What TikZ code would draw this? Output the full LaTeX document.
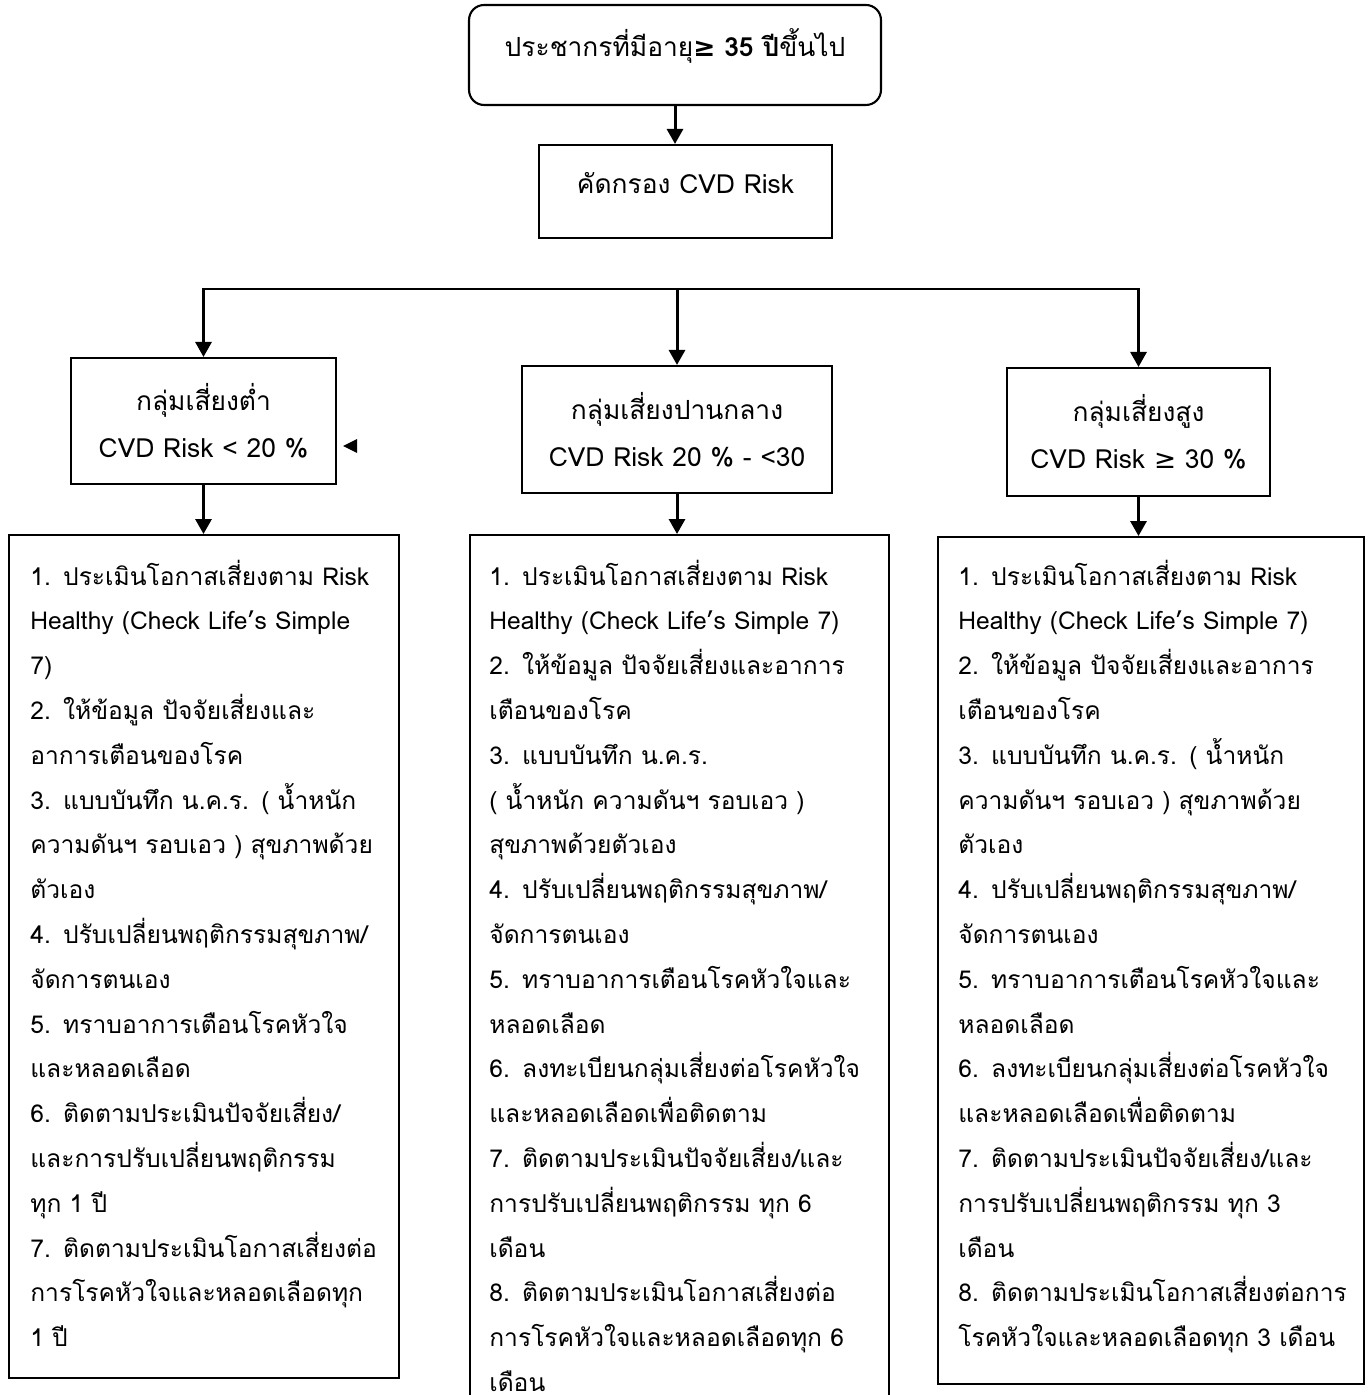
\documentclass[tikz,border=0pt]{standalone}
\usepackage{fontspec}
\setmainfont[Script=Thai]{Loma}
\newfontfamily\symfont{DejaVu Sans}
\usetikzlibrary{positioning, arrows.meta}

\tikzset{
  box/.style={draw, line width=1.2pt, inner sep=0pt, align=center, font=\fontsize{15}{26.5}\selectfont},
  lifted/.style={text height=0.3cm, text depth=0.22cm},
  flow/.style={line width=1.7pt, -{Triangle[length=0.3cm, width=0.32cm]}},
  itemtext/.style={anchor=base west, inner sep=0pt, text width=9cm, align=left, font=\fontsize{14}{25.5}\selectfont},
}

\begin{document}
\begin{tikzpicture}[x=0.02cm, y=-0.02cm]
  \useasboundingbox (0,0) rectangle (1370,1395);
  \node[box, lifted, rounded corners=0.3cm, minimum width=8.24cm, minimum height=2cm] (popbox) at (675,55)
    {ประชากรที่มีอายุ{\bfseries{\symfont ≥} 35 ปี}ขึ้นไป};
  \node[box, lifted, minimum width=5.86cm, minimum height=1.86cm] (screen) at (685.5,191.5) {คัดกรอง CVD Risk};
  \draw[flow] (popbox.south) -- (popbox.south |- screen.north);

  \node[box, minimum width=5.3cm, minimum height=2.52cm] (lowgrp) at (203.5,421) {กลุ่มเสี่ยงต่ำ\\CVD Risk < 20 \%};
  \node[box, minimum width=6.2cm, minimum height=2.54cm] (midgrp) at (677,429.5) {กลุ่มเสี่ยงปานกลาง\\CVD Risk 20 \% - <30};
  \node[box, minimum width=5.26cm, minimum height=2.56cm] (higrp) at (1138.5,432) {กลุ่มเสี่ยงสูง\\CVD Risk {\symfont ≥} 30 \%};
  \coordinate (branch) at (677,289);
  \draw[flow] (branch) -| (lowgrp.north);
  \draw[flow] (branch) -| (higrp.north);
  \draw[flow] (branch) -- (midgrp.north);
  \coordinate (stray) at (343,446);
  \fill (stray) -- ++(14,-7) -- ++(0,14) -- cycle;

  \node[box, minimum width=7.8cm, minimum height=16.86cm] (lowlist) at (204,956.5) {};
  \node[box, minimum width=8.38cm, minimum height=17.9cm] (midlist) at (679.5,982.5) {};
  \node[box, minimum width=8.52cm, minimum height=16.94cm] (hilist) at (1151,960.5) {};
  \draw[flow] (lowgrp.south) -- (lowgrp.south |- lowlist.north);
  \draw[flow] (midgrp.south) -- (midgrp.south |- midlist.north);
  \draw[flow] (higrp.south) -- (higrp.south |- hilist.north);

  \node[itemtext] (lowtext) at (30,585) {1. ประเมินโอกาสเสี่ยงตาม Risk\\
    Healthy (Check Life’s Simple\\
    7)\\
    2. ให้ข้อมูล ปัจจัยเสี่ยงและ\\
    อาการเตือนของโรค\\
    3. แบบบันทึก น.ค.ร. ( น้ำหนัก\\
    ความดันฯ รอบเอว ) สุขภาพด้วย\\
    ตัวเอง\\
    4. ปรับเปลี่ยนพฤติกรรมสุขภาพ/\\
    จัดการตนเอง\\
    5. ทราบอาการเตือนโรคหัวใจ\\
    และหลอดเลือด\\
    6. ติดตามประเมินปัจจัยเสี่ยง/\\
    และการปรับเปลี่ยนพฤติกรรม\\
    ทุก 1 ปี\\
    7. ติดตามประเมินโอกาสเสี่ยงต่อ\\
    การโรคหัวใจและหลอดเลือดทุก\\
    1 ปี};
  \node[itemtext] (midtext) at (489,585) {1. ประเมินโอกาสเสี่ยงตาม Risk\\
    Healthy (Check Life’s Simple 7)\\
    2. ให้ข้อมูล ปัจจัยเสี่ยงและอาการ\\
    เตือนของโรค\\
    3. แบบบันทึก น.ค.ร.\\
    ( น้ำหนัก ความดันฯ รอบเอว )\\
    สุขภาพด้วยตัวเอง\\
    4. ปรับเปลี่ยนพฤติกรรมสุขภาพ/\\
    จัดการตนเอง\\
    5. ทราบอาการเตือนโรคหัวใจและ\\
    หลอดเลือด\\
    6. ลงทะเบียนกลุ่มเสี่ยงต่อโรคหัวใจ\\
    และหลอดเลือดเพื่อติดตาม\\
    7. ติดตามประเมินปัจจัยเสี่ยง/และ\\
    การปรับเปลี่ยนพฤติกรรม ทุก 6\\
    เดือน\\
    8. ติดตามประเมินโอกาสเสี่ยงต่อ\\
    การโรคหัวใจและหลอดเลือดทุก 6\\
    เดือน};
  \node[itemtext] (hitext) at (958,585) {1. ประเมินโอกาสเสี่ยงตาม Risk\\
    Healthy (Check Life’s Simple 7)\\
    2. ให้ข้อมูล ปัจจัยเสี่ยงและอาการ\\
    เตือนของโรค\\
    3. แบบบันทึก น.ค.ร. ( น้ำหนัก\\
    ความดันฯ รอบเอว ) สุขภาพด้วย\\
    ตัวเอง\\
    4. ปรับเปลี่ยนพฤติกรรมสุขภาพ/\\
    จัดการตนเอง\\
    5. ทราบอาการเตือนโรคหัวใจและ\\
    หลอดเลือด\\
    6. ลงทะเบียนกลุ่มเสี่ยงต่อโรคหัวใจ\\
    และหลอดเลือดเพื่อติดตาม\\
    7. ติดตามประเมินปัจจัยเสี่ยง/และ\\
    การปรับเปลี่ยนพฤติกรรม ทุก 3\\
    เดือน\\
    8. ติดตามประเมินโอกาสเสี่ยงต่อการ\\
    โรคหัวใจและหลอดเลือดทุก 3 เดือน};
\end{tikzpicture}
\end{document}
